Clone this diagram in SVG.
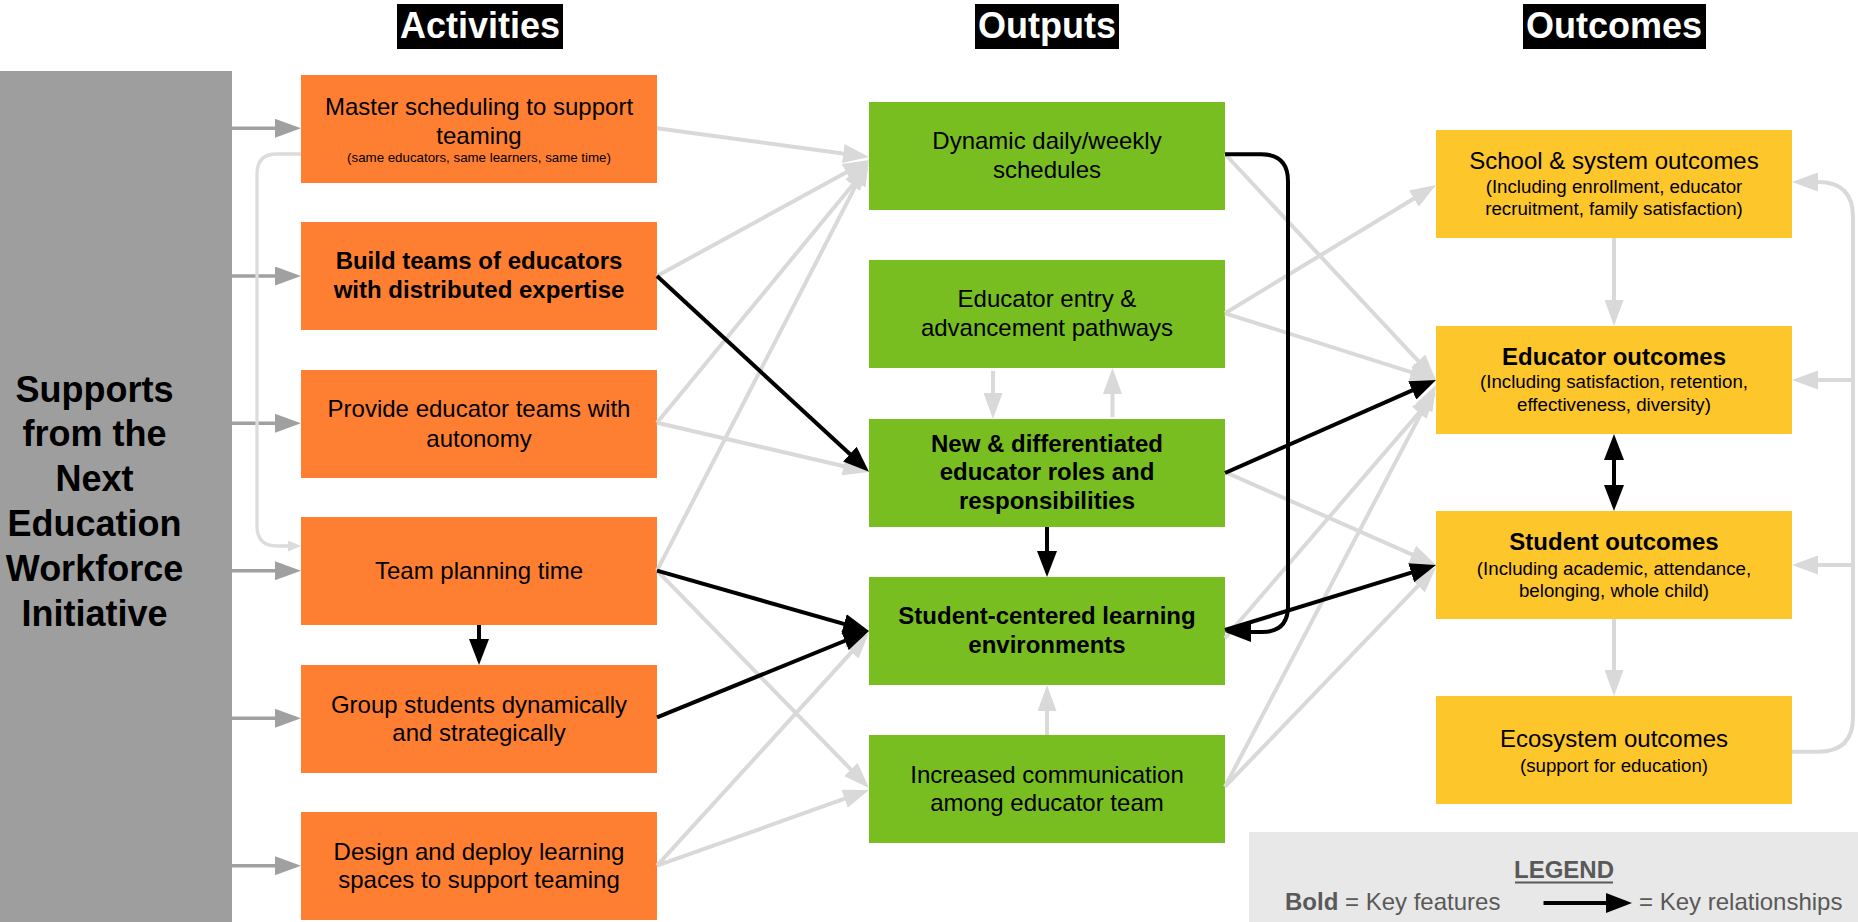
<svg xmlns="http://www.w3.org/2000/svg" width="1858" height="922" viewBox="0 0 1858 922">
<style>
.o{fill:#FE7F31}.g{fill:#78BE21}.y{fill:#FDC62A}
.t{font-family:"Liberation Sans",Arial,sans-serif;font-size:24px;text-anchor:middle;fill:#000}
.b{font-weight:bold}
.sm{font-size:13.3px}
.sub{font-size:18.7px}
.h{font-family:"Liberation Sans",Arial,sans-serif;font-size:36px;font-weight:bold;fill:#fff;text-anchor:middle}
.lg{stroke:#D9D9D9;stroke-width:4;fill:none;marker-end:url(#aL)}
.gr{stroke:#A0A0A0;stroke-width:3.5;fill:none;marker-end:url(#aG)}
.bk{stroke:#000;stroke-width:4;fill:none;marker-end:url(#aB)}
.leg{font-family:"Liberation Sans",Arial,sans-serif;font-size:24px;fill:#595959}
</style>
<defs>
<marker id="aL" markerUnits="userSpaceOnUse" markerWidth="26" markerHeight="19" refX="18" refY="9.5" orient="auto"><path d="M0,0 L26,9.5 L0,19 z" fill="#D9D9D9"/></marker>
<marker id="aG" markerUnits="userSpaceOnUse" markerWidth="26" markerHeight="19" refX="18" refY="9.5" orient="auto"><path d="M0,0 L26,9.5 L0,19 z" fill="#A0A0A0"/></marker>
<marker id="aB" markerUnits="userSpaceOnUse" markerWidth="26" markerHeight="20" refX="18" refY="10" orient="auto"><path d="M0,0 L26,10 L0,20 z" fill="#000"/></marker>
<marker id="aBs" markerUnits="userSpaceOnUse" markerWidth="26" markerHeight="20" refX="18" refY="10" orient="auto-start-reverse"><path d="M0,0 L26,10 L0,20 z" fill="#000"/></marker>
<marker id="aS" markerUnits="userSpaceOnUse" markerWidth="13" markerHeight="11" refX="9" refY="5.5" orient="auto"><path d="M0,0 L13,5.5 L0,11 z" fill="#DCDCDC"/></marker>
</defs>
<rect width="1858" height="922" fill="#fff"/>

<g id="headers">
<rect x="397" y="4" width="166" height="45" fill="#000"/><text class="h" x="480" y="38.3">Activities</text>
<rect x="975" y="4" width="144" height="45" fill="#000"/><text class="h" x="1047" y="38.3">Outputs</text>
<rect x="1523" y="4" width="183" height="45" fill="#000"/><text class="h" x="1614" y="38.3">Outcomes</text>
</g>

<g id="supports">
<rect x="0" y="71" width="232" height="851" fill="#9E9E9E"/>
<text class="t b" style="font-size:36px"><tspan x="94.5" y="401.5">Supports</tspan><tspan x="94.5" y="446.4">from the</tspan><tspan x="94.5" y="491.3">Next</tspan><tspan x="94.5" y="536.2">Education</tspan><tspan x="94.5" y="581.1">Workforce</tspan><tspan x="94.5" y="626">Initiative</tspan></text>
</g>

<g id="act1"><rect class="o" x="301" y="75" width="356" height="108"/><text class="t"><tspan x="479" y="115">Master scheduling to support</tspan><tspan x="479" y="143.5">teaming</tspan></text><text class="t sm" x="479" y="161.5">(same educators, same learners, same time)</text></g>
<g id="act2"><rect class="o" x="301" y="222" width="356" height="108"/><text class="t b"><tspan x="479" y="269.3">Build teams of educators</tspan><tspan x="479" y="298.3">with distributed expertise</tspan></text></g>
<g id="act3"><rect class="o" x="301" y="370" width="356" height="108"/><text class="t"><tspan x="479" y="417.3">Provide educator teams with</tspan><tspan x="479" y="446.5">autonomy</tspan></text></g>
<g id="act4"><rect class="o" x="301" y="517" width="356" height="108"/><text class="t" x="479" y="579.3">Team planning time</text></g>
<g id="act5"><rect class="o" x="301" y="665" width="356" height="108"/><text class="t"><tspan x="479" y="712.7">Group students dynamically</tspan><tspan x="479" y="741.3">and strategically</tspan></text></g>
<g id="act6"><rect class="o" x="301" y="812" width="356" height="108"/><text class="t"><tspan x="479" y="860">Design and deploy learning</tspan><tspan x="479" y="888.3">spaces to support teaming</tspan></text></g>

<g id="out1"><rect class="g" x="869" y="102" width="356" height="108"/><text class="t"><tspan x="1047" y="149">Dynamic daily/weekly</tspan><tspan x="1047" y="177.7">schedules</tspan></text></g>
<g id="out2"><rect class="g" x="869" y="260" width="356" height="108"/><text class="t"><tspan x="1047" y="307.3">Educator entry &amp;</tspan><tspan x="1047" y="336">advancement pathways</tspan></text></g>
<g id="out3"><rect class="g" x="869" y="419" width="356" height="108"/><text class="t b"><tspan x="1047" y="451.7">New &amp; differentiated</tspan><tspan x="1047" y="480.3">educator roles and</tspan><tspan x="1047" y="509">responsibilities</tspan></text></g>
<g id="out4"><rect class="g" x="869" y="577" width="356" height="108"/><text class="t b"><tspan x="1047" y="624.3">Student-centered learning</tspan><tspan x="1047" y="652.7">environments</tspan></text></g>
<g id="out5"><rect class="g" x="869" y="735" width="356" height="108"/><text class="t"><tspan x="1047" y="783.3">Increased communication</tspan><tspan x="1047" y="811">among educator team</tspan></text></g>

<g id="oc1"><rect class="y" x="1436" y="130" width="356" height="108"/><text class="t" x="1614" y="169.3">School &amp; system outcomes</text><text class="t sub"><tspan x="1614" y="193.3">(Including enrollment, educator</tspan><tspan x="1614" y="215">recruitment, family satisfaction)</tspan></text></g>
<g id="oc2"><rect class="y" x="1436" y="326" width="356" height="108"/><text class="t b" x="1614" y="365">Educator outcomes</text><text class="t sub"><tspan x="1614" y="388.3">(Including satisfaction, retention,</tspan><tspan x="1614" y="411">effectiveness, diversity)</tspan></text></g>
<g id="oc3"><rect class="y" x="1436" y="511" width="356" height="108"/><text class="t b" x="1614" y="550">Student outcomes</text><text class="t sub"><tspan x="1614" y="575">(Including academic, attendance,</tspan><tspan x="1614" y="596.7">belonging, whole child)</tspan></text></g>
<g id="oc4"><rect class="y" x="1436" y="696" width="356" height="108"/><text class="t" x="1614" y="746.7">Ecosystem outcomes</text><text class="t sub" x="1614" y="771.7">(support for education)</text></g>

<g id="legend">
<rect x="1249" y="832" width="609" height="90" fill="#E8E8E8"/>
<text class="leg b" x="1564" y="878" text-anchor="middle">LEGEND</text>
<line x1="1515" y1="882.5" x2="1613" y2="882.5" stroke="#595959" stroke-width="2"/>
<text class="leg" x="1285" y="910"><tspan font-weight="bold">Bold</tspan> = Key features</text>
<line x1="1543.5" y1="903" x2="1624" y2="903" class="bk"/>
<text class="leg" x="1639" y="910">= Key relationships</text>
</g>

<g id="connectors">
<line class="gr" x1="232" y1="128.3" x2="293" y2="128.3"/>
<line class="gr" x1="232" y1="276" x2="293" y2="276"/>
<line class="gr" x1="232" y1="423.3" x2="293" y2="423.3"/>
<line class="gr" x1="232" y1="570.7" x2="293" y2="570.7"/>
<line class="gr" x1="232" y1="718.3" x2="293" y2="718.3"/>
<line class="gr" x1="232" y1="865.7" x2="293" y2="865.7"/>
<path d="M301,154 H277 Q257,154 257,174 V526 Q257,546 277,546 H297" stroke="#DCDCDC" stroke-width="3.3" fill="none" marker-end="url(#aS)"/>

<line class="lg" x1="657" y1="128.3" x2="861.1" y2="155.9"/>
<line class="lg" x1="657" y1="276" x2="862" y2="163.8"/>
<line class="lg" x1="657" y1="422.7" x2="863.9" y2="171.2"/>
<line class="lg" x1="657" y1="570.7" x2="865.3" y2="167.1"/>
<line class="lg" x1="657" y1="422.7" x2="861.2" y2="470.2"/>
<line class="lg" x1="657" y1="570.7" x2="863.4" y2="782.3"/>
<line class="lg" x1="657" y1="865.7" x2="863.6" y2="638.9"/>
<line class="lg" x1="657" y1="865.7" x2="861.5" y2="792.7"/>

<line class="lg" x1="993" y1="371" x2="993" y2="411"/>
<line class="lg" x1="1112.5" y1="417" x2="1112.5" y2="376"/>
<line class="lg" x1="1047" y1="735" x2="1047" y2="693"/>

<line class="lg" x1="1225" y1="154" x2="1430.5" y2="374.2"/>
<line class="lg" x1="1225" y1="313.3" x2="1429.2" y2="189.2"/>
<line class="lg" x1="1225" y1="313.3" x2="1428.4" y2="377.6"/>
<line class="lg" x1="1225" y1="472" x2="1428.7" y2="561.8"/>
<line class="lg" x1="1225" y1="638" x2="1430.8" y2="399.1"/>
<line class="lg" x1="1225" y1="786.7" x2="1432.3" y2="392.1"/>
<line class="lg" x1="1225" y1="786.7" x2="1430.5" y2="572.8"/>

<line class="lg" x1="1614" y1="238" x2="1614" y2="318"/>
<line class="lg" x1="1614" y1="619" x2="1614" y2="688"/>
<path class="lg" d="M1792,751.7 H1818 Q1853,751.7 1853,717 V217 Q1853,182 1818,182 H1800"/>
<line class="lg" x1="1853" y1="380" x2="1800" y2="380"/>
<line class="lg" x1="1853" y1="565" x2="1800" y2="565"/>

<line class="bk" x1="657" y1="276" x2="863.1" y2="466.3"/>
<line class="bk" x1="657" y1="570.7" x2="861.3" y2="628.8"/>
<line class="bk" x1="657" y1="717.3" x2="861.6" y2="634"/>
<line class="bk" x1="479" y1="625" x2="479" y2="657"/>
<line class="bk" x1="1047" y1="527" x2="1047" y2="569"/>
<line class="bk" x1="1225" y1="473" x2="1428.7" y2="383.2"/>
<path class="bk" d="M1225,154.3 H1261 Q1288,154.3 1288,181 V606 Q1288,632 1262,632 H1233"/>
<line class="bk" x1="1225" y1="630" x2="1428.4" y2="567.4"/>
<line class="bk" x1="1614" y1="442" x2="1614" y2="503" marker-start="url(#aBs)"/>
</g>
</svg>
